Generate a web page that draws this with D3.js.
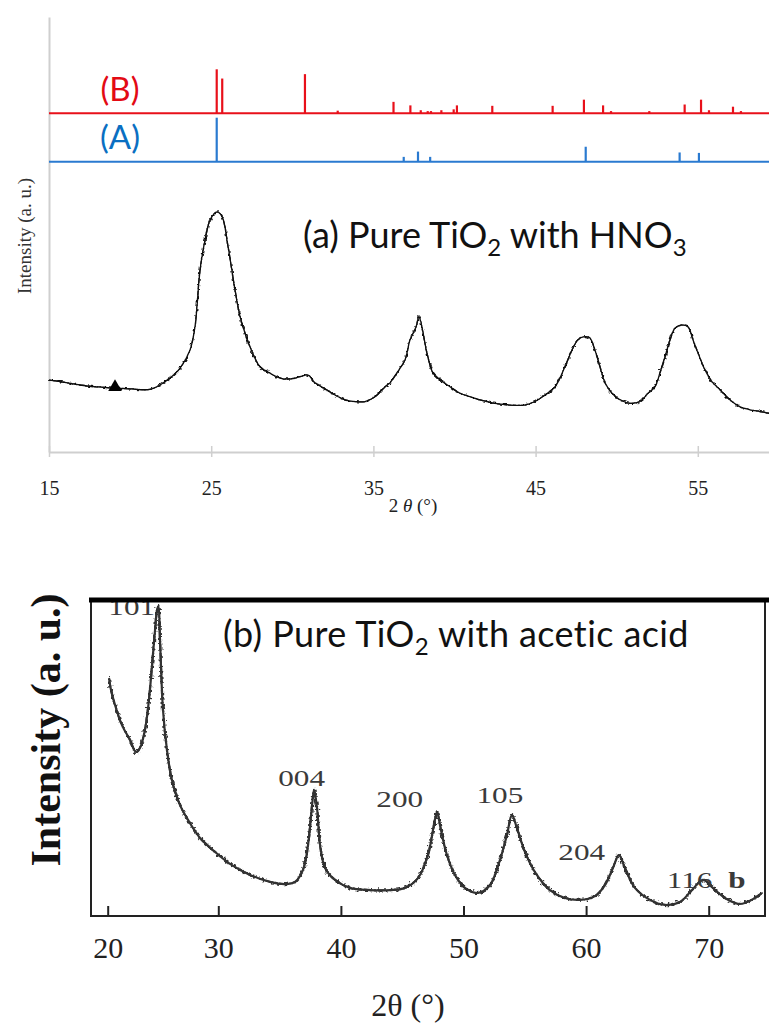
<!DOCTYPE html>
<html><head><meta charset="utf-8">
<script src="https://cdn.jsdelivr.net/npm/d3@7"></script>
<style>html,body{margin:0;padding:0;background:#fff}svg{display:block}</style>
</head><body>
<script>
// ---------- DATA ----------
// Panel (a): reference stick patterns (2θ, relative intensity)
const refB_theta = [25.34,25.68,30.78,32.80,36.24,37.28,37.92,38.35,38.55,39.19,39.95,40.15,42.33,46.05,47.98,49.16,49.65,52.01,54.19,55.20,55.69,57.17,57.66];
const refB_int   = [100,79,89,6,26,18,7,5,5,7,9,18,17,17,31,18,5,5,20,31,7,15,5];
const refA_theta = [25.34,36.87,37.75,38.50,48.09,53.88,55.07];
const refA_int   = [100,11,23,11,34,21,20];
// Panel (a): measured pattern
const a_theta = [15.00,15.68,16.91,18.14,19.07,19.99,21.23,21.84,22.46,23.08,23.69,24.00,24.31,24.62,24.93,25.36,25.67,26.04,26.47,26.78,27.08,27.39,28.01,28.63,29.24,29.86,30.47,30.97,31.40,32.02,32.63,33.25,33.87,34.48,35.10,35.72,36.02,36.45,36.95,37.26,37.63,37.81,38.06,38.30,38.67,39.11,39.72,40.34,40.96,41.57,42.50,43.42,44.35,44.96,45.58,46.20,46.81,47.24,47.61,48.05,48.35,48.66,48.97,49.28,49.71,50.20,50.82,51.44,51.93,52.36,52.67,52.98,53.29,53.60,54.03,54.40,54.70,55.01,55.44,55.87,56.37,56.98,57.60,58.22,58.83,59.39];
const a_int   = [165,162,154,149,147,145,144,154,170,193,234,288,418,487,533,552,541,472,372,311,274,242,196,181,170,168,173,177,159,145,131,120,116,116,127,150,159,182,212,258,288,311,274,228,182,166,150,135,127,120,112,108,108,116,131,150,196,234,258,265,262,234,196,159,135,120,112,116,135,150,182,219,258,285,292,288,258,228,189,162,143,120,104,97,93,89];
const a_marker = [{theta:19.07, int:147}];
const a_ticks = [15,25,35,45,55];

// Panel (b): measured pattern
const b_theta = [20.12,20.30,20.66,21.29,22.02,22.56,22.92,23.37,23.73,24.01,24.28,24.46,24.59,24.73,25.00,25.36,25.81,26.54,27.44,28.35,29.70,30.95,32.59,34.22,35.44,36.26,36.91,37.32,37.65,37.81,38.05,38.30,38.71,39.52,40.74,42.37,44.01,45.23,46.29,47.10,47.59,47.84,48.16,48.65,49.30,50.12,51.18,52.16,52.97,53.54,53.95,54.36,55.01,55.83,57.05,58.28,59.50,60.72,61.54,62.19,62.68,63.17,63.98,65.21,66.43,67.65,68.63,69.53,70.34,71.32,72.54,73.77,74.34];
const b_int   = [75.3,71.5,66.8,60.4,55.7,51.9,53.2,58.9,68.4,79.4,90.5,96.8,98.1,87.3,65.2,52.5,43.0,35.1,29.4,24.7,20.3,16.5,13.0,10.8,10.1,10.8,14.6,22.5,35.1,39.9,34.2,22.5,15.2,11.4,8.9,8.2,8.2,8.9,12.0,19.3,28.8,32.9,27.2,19.3,13.0,8.9,7.3,9.8,17.7,25.6,32.0,27.8,20.3,13.9,8.2,5.7,5.1,6.3,9.8,15.2,19.3,15.2,8.9,5.1,3.5,4.4,8.2,11.4,8.9,5.7,3.8,5.7,7.3];
const b_labels = ["101","004","200","105","204","116","b"];
const b_label_theta = [22.17,36.80,44.80,52.97,59.64,68.44,72.30];
const b_label_int = [95.3,41.1,34.5,35.8,17.7,9.0,9.0];
const b_ticks = [20,30,40,50,60,70];

// ---------- DRAW ----------
const W = 769, H = 1023;
const svg = d3.select("body").append("svg").attr("width", W).attr("height", H);

// grain filters (visual texture of the scanned traces)
const defs = svg.append("defs");
function grain(id, freq, scale) {
  const f = defs.append("filter").attr("id", id).attr("filterUnits", "userSpaceOnUse")
    .attr("x", 0).attr("y", 0).attr("width", W).attr("height", H);
  f.append("feTurbulence").attr("type", "fractalNoise").attr("baseFrequency", freq)
    .attr("numOctaves", 1).attr("seed", 3).attr("result", "n");
  f.append("feDisplacementMap").attr("in", "SourceGraphic").attr("in2", "n")
    .attr("scale", scale).attr("xChannelSelector", "R").attr("yChannelSelector", "G").attr("result", "d");
  const m = f.append("feMerge");
  m.append("feMergeNode").attr("in", "d");
  m.append("feMergeNode").attr("in", "SourceGraphic");
}
grain("grainA", "0.35 0.35", 5);
grain("grainB", "0.45 0.45", 7);

// ===== Panel (a) =====
const xA = d3.scaleLinear().domain([15, 59.39]).range([49, 769]);
const yA = d3.scaleLinear().domain([0, 1000]).range([452, 17]);
const stickH = d3.scaleLinear().domain([0, 100]).range([0, 44]);
const gray = "#cfcfcf";

svg.append("g").attr("transform", "translate(49,0)")
  .call(d3.axisLeft(yA).tickValues([]).tickSizeOuter(0))
  .call(g => g.select(".domain").attr("stroke", gray).attr("stroke-width", 2));

const gxA = svg.append("g").attr("transform", "translate(0,452)")
  .call(d3.axisBottom(xA).tickValues(a_ticks).tickSizeOuter(0).tickSizeInner(5).tickPadding(24));
gxA.select(".domain").attr("stroke", gray).attr("stroke-width", 2);
gxA.selectAll(".tick line").attr("stroke", gray).attr("stroke-width", 1.5).attr("y1", -6).attr("y2", 5);
gxA.selectAll(".tick text").attr("font-family", "'Liberation Serif', 'Times New Roman', serif")
  .attr("font-size", 20).attr("fill", "#222");

svg.append("text").attr("x", 413).attr("y", 512).attr("text-anchor", "middle")
  .attr("font-family", "'Liberation Serif', serif").attr("font-size", 19).attr("fill", "#222")
  .html('2 <tspan font-style="italic">θ</tspan> (°)');

svg.append("text").attr("transform", "translate(31,236) rotate(-90)").attr("text-anchor", "middle")
  .attr("font-family", "'Liberation Serif', serif").attr("font-size", 19).attr("fill", "#333")
  .text("Intensity (a. u.)");

function drawRef(theta, ints, base, color) {
  svg.append("line").attr("x1", 49).attr("x2", 769).attr("y1", base).attr("y2", base)
    .attr("stroke", color).attr("stroke-width", 2);
  svg.append("g").selectAll("line").data(theta).join("line")
    .attr("x1", d => xA(d)).attr("x2", d => xA(d))
    .attr("y1", base).attr("y2", (d, i) => base - stickH(ints[i]))
    .attr("stroke", color).attr("stroke-width", 2.2);
}
drawRef(refB_theta, refB_int, 113.3, "#e8101a");
drawRef(refA_theta, refA_int, 161.7, "#2a7ad0");

svg.append("text").attr("x", 120).attr("y", 101).attr("text-anchor", "middle")
  .attr("font-family", "Lato, 'Open Sans', sans-serif").attr("font-size", 33).attr("fill", "#e30a14").text("(B)");
svg.append("text").attr("x", 120).attr("y", 149).attr("text-anchor", "middle")
  .attr("font-family", "Lato, 'Open Sans', sans-serif").attr("font-size", 33).attr("fill", "#0a6fc2").text("(A)");

const aData = a_theta.map((t, i) => ({theta: t, int: a_int[i]}));
svg.append("path").datum(aData)
  .attr("d", d3.line().x(d => xA(d.theta)).y(d => yA(d.int)).curve(d3.curveCatmullRom.alpha(0.5)))
  .attr("fill", "none").attr("stroke", "#111").attr("stroke-width", 1.3).attr("stroke-linejoin", "round")
  .attr("filter", "url(#grainA)");
svg.selectAll(".mk").data(a_marker).join("path")
  .attr("transform", d => `translate(${xA(d.theta)},${yA(d.int) - 1})`)
  .attr("d", d3.symbol(d3.symbolTriangle, 80)).attr("fill", "#000");

svg.append("text").attr("x", 303).attr("y", 248)
  .attr("font-family", "Lato, 'Open Sans', sans-serif").attr("font-size", 36).attr("fill", "#111")
  .html('(a) Pure TiO<tspan font-size="24" dy="8">2</tspan><tspan dy="-8"> with HNO</tspan><tspan font-size="24" dy="8">3</tspan>');

// ===== Panel (b) =====
const xB = d3.scaleLinear().domain([20, 30, 70]).range([107.7, 218.3, 708.7]);
const yB = d3.scaleLinear().domain([0, 100]).range([916, 600]);

const gxB = svg.append("g").attr("transform", "translate(0,916)")
  .call(d3.axisBottom(xB).tickValues(b_ticks).tickSizeOuter(0).tickSizeInner(-10).tickPadding(21));
gxB.select(".domain").remove();
gxB.selectAll(".tick line").attr("stroke", "#222").attr("stroke-width", 2);
gxB.selectAll(".tick text").attr("font-family", "'Liberation Serif', serif")
  .attr("font-size", 30).attr("fill", "#222");

const bData = b_theta.map((t, i) => ({theta: t, int: b_int[i]}));
svg.append("path").datum(bData)
  .attr("d", d3.line().x(d => xB(d.theta)).y(d => yB(d.int)).curve(d3.curveCatmullRom.alpha(0.5)))
  .attr("fill", "none").attr("stroke", "#333").attr("stroke-width", 2.2).attr("stroke-linejoin", "round")
  .attr("filter", "url(#grainB)");

svg.append("g").selectAll("text").data(b_labels).join("text")
  .attr("transform", (d, i) => `translate(${xB(b_label_theta[i])},${yB(b_label_int[i])}) scale(1.3,1)`)
  .attr("text-anchor", "middle").attr("font-family", "'Liberation Serif', serif")
  .attr("font-size", 24).attr("fill", "#3a3a3a")
  .attr("font-weight", d => d === "b" ? "bold" : "normal").text(d => d);

svg.append("rect").attr("x", 91).attr("y", 600).attr("width", 674).attr("height", 316)
  .attr("fill", "none").attr("stroke", "#222").attr("stroke-width", 2);
svg.append("line").attr("x1", 89).attr("x2", 769).attr("y1", 600).attr("y2", 600)
  .attr("stroke", "#000").attr("stroke-width", 5);

svg.append("text").attr("x", 223).attr("y", 647)
  .attr("font-family", "Lato, 'Open Sans', sans-serif").attr("font-size", 36).attr("fill", "#111")
  .attr("letter-spacing", 0.4)
  .html('(b) Pure TiO<tspan font-size="24" dy="8">2</tspan><tspan dy="-8"> with acetic acid</tspan>');

svg.append("text").attr("x", 408).attr("y", 1016).attr("text-anchor", "middle")
  .attr("font-family", "'Liberation Serif', serif").attr("font-size", 32).attr("fill", "#222")
  .text("2θ (°)");

svg.append("text").attr("transform", "translate(60,730) rotate(-90)").attr("text-anchor", "middle")
  .attr("font-family", "'Liberation Serif', serif").attr("font-size", 42).attr("font-weight", "bold")
  .attr("fill", "#111").text("Intensity (a. u.)");
</script>
</body></html>
